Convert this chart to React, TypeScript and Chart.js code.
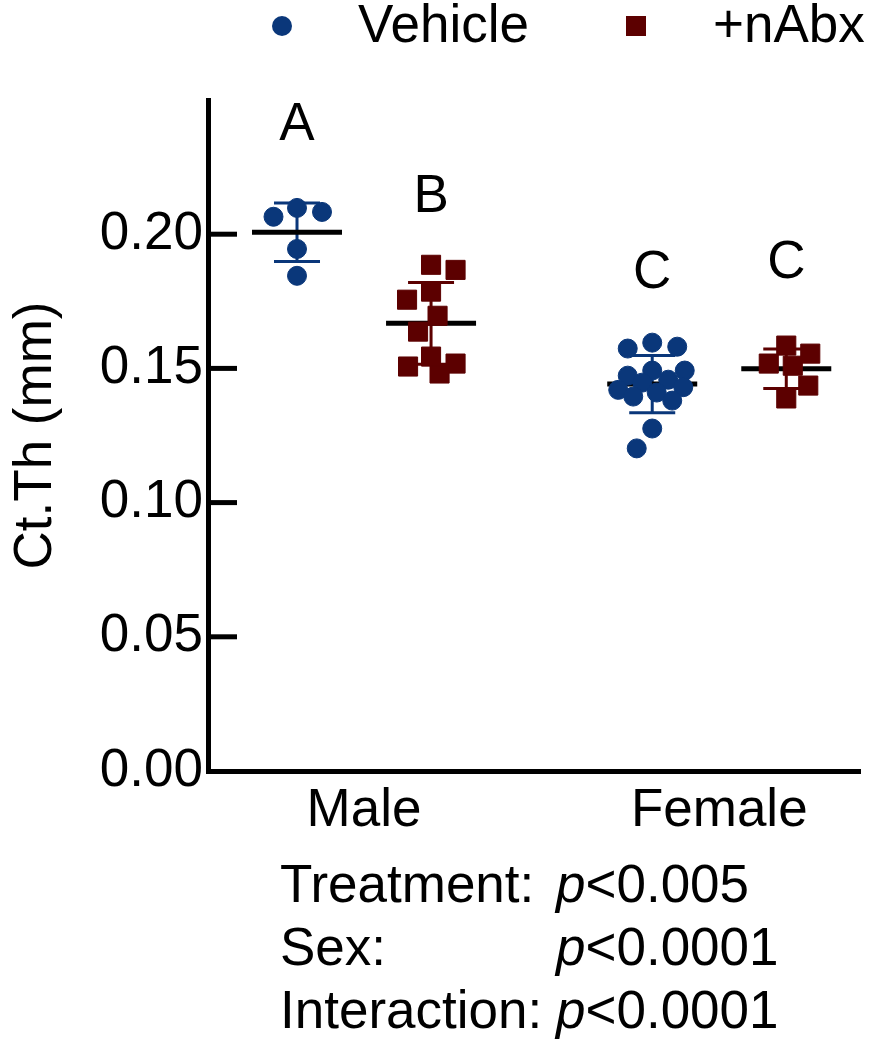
import React, { useEffect, useRef } from "react";
import { Chart, registerables } from "chart.js";

Chart.register(...registerables);

// ---------- data ----------
const categories = ["Male", "Female"];
const seriesLabels = ["Vehicle", "+nAbx"];
const seriesColors = ["#0a377a", "#5c0000"];
const seriesPointStyles = ["circle", "rect"];

const vehicleMale = [0.2083, 0.2065, 0.2098, 0.1945, 0.1845];
const vehicleFemale = [
  0.1596, 0.1574, 0.1581, 0.1458, 0.1473, 0.1492, 0.1492, 0.1447, 0.143,
  0.142, 0.141, 0.1395, 0.138, 0.1276, 0.1202,
];
const nAbxMale = [
  0.1867, 0.1886, 0.1786, 0.1756, 0.1696, 0.1637, 0.1518, 0.1481, 0.1507,
  0.1544,
];
const nAbxFemale = [0.1585, 0.1555, 0.1518, 0.151, 0.1436, 0.1388];

// significance letters, order: [Male Vehicle, Male +nAbx, Female Vehicle, Female +nAbx]
const groupLetters = ["A", "B", "C", "C"];
const letterLevels = [0.2351, 0.2083, 0.18, 0.1838];

const yTickValues = [0, 0.05, 0.1, 0.15, 0.2];
const yMin = 0;
const yMax = 0.25;
const yTitle = "Ct.Th (mm)";

const statLabels = ["Treatment:", "Sex:", "Interaction:"];
const statPValues = ["<0.005", "<0.0001", "<0.0001"];

const seriesValues = [
  [vehicleMale, vehicleFemale],
  [nAbxMale, nAbxFemale],
];

// ---------- layout / style ----------
const FONT = "'Liberation Sans', Arial, Helvetica, sans-serif";
const FS = 53;
const GROUP_GAP = 2.65;
const X_MIN = -0.664;
const X_MAX = 4.2;
const SWARM_DIST = 25;
const SWARM_MAX = 34;

const posOf = (g: number, s: number) => g * GROUP_GAP + s;

function mean(a: number[]) {
  return a.reduce((p, c) => p + c, 0) / a.length;
}
function sd(a: number[]) {
  const m = mean(a);
  return Math.sqrt(a.reduce((p, c) => p + (c - m) * (c - m), 0) / (a.length - 1));
}

// bounded beeswarm: nearest free slot to the centre; if none within the
// allowed width, take the slot with the least overlap
function swarmOffsets(values: number[], yPx: (v: number) => number) {
  const order = values.map((_, i) => i).sort((a, b) => values[b] - values[a]);
  const placed: { x: number; y: number }[] = [];
  const out = new Array(values.length).fill(0);
  let flip = false;
  for (const i of order) {
    const y = yPx(values[i]);
    const cands: number[] = [0];
    for (let st = 0.5; st <= SWARM_MAX; st += 0.5) {
      if (flip) cands.push(-st, st);
      else cands.push(st, -st);
    }
    const minD = (c: number) =>
      placed.reduce((m, p) => Math.min(m, Math.hypot(p.x - c, p.y - y)), Infinity);
    let best: number | null = null;
    for (const c of cands) {
      if (minD(c) >= SWARM_DIST) {
        best = c;
        break;
      }
    }
    if (best === null) {
      let bd = -1;
      best = 0;
      for (const c of cands) {
        const d = minD(c);
        if (d > bd + 0.01) {
          bd = d;
          best = c;
        }
      }
    }
    if (best !== 0) flip = !flip;
    placed.push({ x: best, y });
    out[i] = best;
  }
  return out;
}

function buildData(offsetsPx: number[][][] | null, unitPx: number) {
  return seriesLabels.map((label, s) => {
    const pts: { x: number; y: number }[] = [];
    categories.forEach((_, g) => {
      seriesValues[s][g].forEach((v, i) => {
        const off = offsetsPx ? offsetsPx[s][g][i] / unitPx : 0;
        pts.push({ x: posOf(g, s) + off, y: v });
      });
    });
    return pts;
  });
}

const errorBarPlugin = {
  id: "errorBars",
  beforeDatasetsDraw(chart: any) {
    const { ctx, scales } = chart;
    const xs = scales.x;
    const ys = scales.y;
    ctx.save();
    seriesLabels.forEach((_, s) => {
      categories.forEach((__, g) => {
        const vals = seriesValues[s][g];
        const m = mean(vals);
        const d = sd(vals);
        const cx = xs.getPixelForValue(posOf(g, s));
        const yTop = ys.getPixelForValue(m + d);
        const yBot = ys.getPixelForValue(m - d);
        const yM = ys.getPixelForValue(m);
        ctx.strokeStyle = seriesColors[s];
        ctx.lineWidth = 3;
        ctx.lineCap = "butt";
        ctx.beginPath();
        ctx.moveTo(cx, yTop);
        ctx.lineTo(cx, yBot);
        ctx.moveTo(cx - 23, yTop);
        ctx.lineTo(cx + 23, yTop);
        ctx.moveTo(cx - 23, yBot);
        ctx.lineTo(cx + 23, yBot);
        ctx.stroke();
        ctx.strokeStyle = "#000";
        ctx.lineWidth = 5;
        ctx.beginPath();
        ctx.moveTo(cx - 45, yM);
        ctx.lineTo(cx + 45, yM);
        ctx.stroke();
      });
    });
    ctx.restore();
  },
};

const overlayPlugin = {
  id: "overlay",
  afterDraw(chart: any) {
    const { ctx, scales, chartArea } = chart;
    const xs = scales.x;
    const ys = scales.y;
    ctx.save();
    // inward tick marks on y axis
    ctx.strokeStyle = "#000";
    ctx.lineWidth = 5;
    ys.ticks.forEach((t: any) => {
      if (t.value === yMin) return;
      const y = ys.getPixelForValue(t.value);
      ctx.beginPath();
      ctx.moveTo(chartArea.left, y);
      ctx.lineTo(chartArea.left + 29, y);
      ctx.stroke();
    });
    // letters
    ctx.fillStyle = "#000";
    ctx.font = `${FS}px ${FONT}`;
    ctx.textAlign = "center";
    ctx.textBaseline = "alphabetic";
    categories.forEach((_, g) => {
      seriesLabels.forEach((__, s) => {
        const idx = g * seriesLabels.length + s;
        ctx.fillText(
          groupLetters[idx],
          xs.getPixelForValue(posOf(g, s)),
          ys.getPixelForValue(letterLevels[idx])
        );
      });
    });
    // legend
    const legendItems = [
      { mx: 282, tx: 358 },
      { mx: 636, tx: 713 },
    ];
    const legendBaseline = 42;
    const legendMid = 26;
    seriesLabels.forEach((label, s) => {
      const it = legendItems[s];
      ctx.fillStyle = seriesColors[s];
      if (seriesPointStyles[s] === "circle") {
        ctx.beginPath();
        ctx.arc(it.mx, legendMid, 10, 0, Math.PI * 2);
        ctx.fill();
      } else {
        ctx.fillRect(it.mx - 10, legendMid - 10, 20, 20);
      }
      ctx.fillStyle = "#000";
      ctx.textAlign = "left";
      ctx.fillText(label, it.tx, legendBaseline);
    });
    // statistics text
    const statX = 280;
    const pX = 556;
    const baselines = [902, 965, 1028];
    statLabels.forEach((lab, i) => {
      ctx.font = `${FS}px ${FONT}`;
      ctx.textAlign = "left";
      ctx.fillStyle = "#000";
      ctx.fillText(lab, statX, baselines[i]);
      ctx.font = `italic ${FS}px ${FONT}`;
      ctx.fillText("p", pX, baselines[i]);
      const w = ctx.measureText("p").width;
      ctx.font = `${FS}px ${FONT}`;
      ctx.fillText(statPValues[i], pX + w, baselines[i]);
    });
    ctx.restore();
  },
};

export default function App() {
  const ref = useRef<HTMLCanvasElement>(null);

  useEffect(() => {
    document.body.style.margin = "0";
    const canvas = ref.current;
    if (!canvas) return;
    Chart.defaults.font.family = FONT;
    Chart.defaults.color = "#000";

    const data0 = buildData(null, 1);
    const chart = new Chart(canvas, {
      type: "scatter",
      data: {
        datasets: seriesLabels.map((label, s) => ({
          label,
          data: data0[s],
          backgroundColor: seriesColors[s],
          borderColor: seriesColors[s],
          borderWidth: 1,
          pointStyle: seriesPointStyles[s] as any,
          pointRadius: s === 0 ? 9.5 : 13.5,
          pointHoverRadius: s === 0 ? 9.5 : 13.5,
        })),
      },
      options: {
        responsive: false,
        animation: false,
        devicePixelRatio: 1,
        layout: { padding: { top: 100, right: 19, bottom: 0, left: 0 } },
        plugins: {
          legend: { display: false },
          tooltip: { enabled: false },
        },
        scales: {
          x: {
            type: "linear",
            min: X_MIN,
            max: X_MAX,
            grid: { display: false, drawTicks: false },
            border: { display: true, color: "#000", width: 5 },
            afterBuildTicks: (scale: any) => {
              scale.ticks = categories.map((_, g) => ({ value: posOf(g, 0) + 0.5 }));
            },
            afterFit: (scale: any) => {
              scale.height = 279;
            },
            ticks: {
              autoSkip: false,
              maxRotation: 0,
              padding: 9,
              color: "#000",
              font: { size: FS, family: FONT },
              callback: (_v: any, i: number) => categories[i],
            },
          },
          y: {
            type: "linear",
            min: yMin,
            max: yMax,
            grid: { display: false, drawTicks: false },
            border: { display: true, color: "#000", width: 5 },
            afterBuildTicks: (scale: any) => {
              scale.ticks = yTickValues.map((v) => ({ value: v }));
            },
            afterFit: (scale: any) => {
              scale.width = 208;
            },
            ticks: {
              padding: 5,
              color: "#000",
              font: { size: FS, family: FONT },
              callback: (v: any) => Number(v).toFixed(2),
            },
            title: {
              display: true,
              text: yTitle,
              color: "#000",
              font: { size: FS, family: FONT },
              padding: { top: 5, bottom: 0 },
            },
          },
        },
      },
      plugins: [errorBarPlugin, overlayPlugin],
    });

    // beeswarm arrangement, computed in pixel space from the chart's scales
    const ys: any = chart.scales.y;
    const xs: any = chart.scales.x;
    const unitPx = xs.getPixelForValue(1) - xs.getPixelForValue(0);
    const offsets = seriesLabels.map((_, s) =>
      categories.map((__, g) =>
        swarmOffsets(seriesValues[s][g], (v) => ys.getPixelForValue(v))
      )
    );
    const data1 = buildData(offsets, unitPx);
    chart.data.datasets.forEach((ds: any, s: number) => {
      ds.data = data1[s];
    });
    chart.update("none");

    return () => chart.destroy();
  }, []);

  return (
    <div style={{ width: 879, height: 1050, overflow: "hidden" }}>
      <canvas
        ref={ref}
        width={879}
        height={1050}
        style={{ display: "block", width: 879, height: 1050 }}
      />
    </div>
  );
}
